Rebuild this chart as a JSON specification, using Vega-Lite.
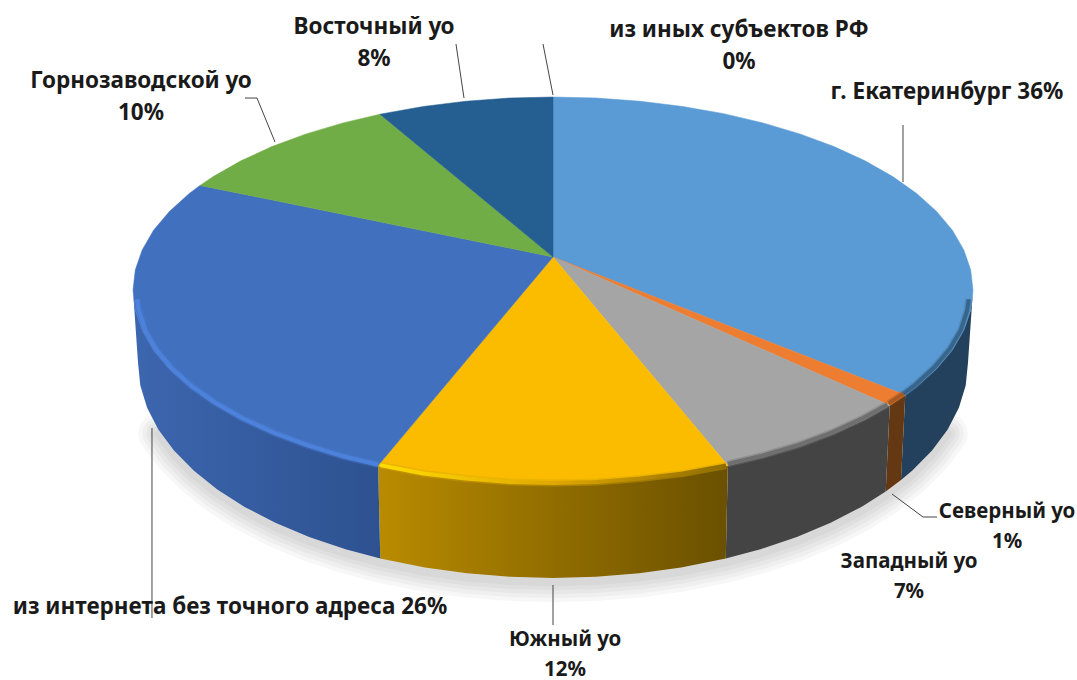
{"$schema":"https://vega.github.io/schema/vega-lite/v6.json","width":1077,"height":680,"padding":0,"autosize":"none","background":"white","config":{"view":{"stroke":null}},
"projection":{"type":"identity","scale":4.2,"translate":[553,290]},
"resolve":{"scale":{"color":"independent","stroke":"independent"}},
"datasets":{"shapes":[
{"type":"Feature","properties":{"part":"shadow","name":"shadow"},"geometry":{"type":"LineString","coordinates":[[93.97,34.2],[90.25,39.2],[85.56,43.98],[79.22,48.98],[73.42,52.64],[66.11,56.43],[58.07,59.8],[49.4,62.72],[41.13,64.93],[30.53,67.08],[20.54,68.46],[10.32,69.3],[0,69.58],[-10.32,69.3],[-20.54,68.46],[-30.53,67.08],[-41.13,64.93],[-49.4,62.72],[-58.07,59.8],[-66.11,56.43],[-73.42,52.64],[-79.93,48.48],[-85.56,43.98],[-90.25,39.2],[-93.97,34.2]]}},
{"type":"Feature","properties":{"part":"wall","name":"г. Екатеринбург"},"geometry":{"type":"Polygon","coordinates":[[[100,0],[99.45,4.8],[97.81,9.55],[95.11,14.2],[91.35,18.69],[86.6,22.98],[83.87,25.02],[82.86,45.26],[85.56,42.98],[90.25,38.2],[93.97,33.2],[96.64,28.02],[98.26,22.73],[98.8,17.38],[100,0]]]}},
{"type":"Feature","properties":{"part":"wall","name":"Северный уо"},"geometry":{"type":"Polygon","coordinates":[[[83.87,25.02],[80.18,27.46],[79.22,47.98],[82.86,45.26],[83.87,25.02]]]}},
{"type":"Feature","properties":{"part":"wall","name":"Западный уо"},"geometry":{"type":"Polygon","coordinates":[[[80.18,27.46],[74.31,30.75],[66.91,34.15],[58.78,37.17],[50,39.79],[41.63,41.78],[41.13,63.93],[49.4,61.72],[58.07,58.8],[66.11,55.43],[73.42,51.64],[79.22,47.98],[80.18,27.46]]]}},
{"type":"Feature","properties":{"part":"wallYellow","name":"Южный уо"},"geometry":{"type":"Polygon","coordinates":[[[41.63,41.78],[30.9,43.7],[20.79,44.94],[10.45,45.7],[0,45.95],[-10.45,45.7],[-20.79,44.94],[-30.9,43.7],[-41.63,41.78],[-41.13,63.93],[-30.53,66.08],[-20.54,67.46],[-10.32,68.3],[0,68.58],[10.32,68.3],[20.54,67.46],[30.53,66.08],[41.13,63.93],[41.63,41.78]]]}},
{"type":"Feature","properties":{"part":"wallBlue","name":"из интернета без точного адреса"},"geometry":{"type":"Polygon","coordinates":[[[-41.63,41.78],[-50,39.79],[-58.78,37.17],[-66.91,34.15],[-74.31,30.75],[-80.9,27.01],[-86.6,22.98],[-91.35,18.69],[-95.11,14.2],[-97.81,9.55],[-99.45,4.8],[-100,0],[-98.8,17.38],[-98.26,22.73],[-96.64,28.02],[-93.97,33.2],[-90.25,38.2],[-85.56,42.98],[-79.93,47.48],[-73.42,51.64],[-66.11,55.43],[-58.07,58.8],[-49.4,61.72],[-41.13,63.93],[-41.63,41.78]]]}},
{"type":"Feature","properties":{"part":"top","name":"г. Екатеринбург"},"geometry":{"type":"Polygon","coordinates":[[[0,-7.86],[0,-45.95],[10.45,-45.7],[20.79,-44.94],[30.9,-43.7],[40.67,-41.98],[50,-39.79],[58.78,-37.17],[66.91,-34.15],[74.31,-30.75],[80.9,-27.01],[86.6,-22.98],[91.35,-18.69],[95.11,-14.2],[97.81,-9.55],[99.45,-4.8],[100,0],[99.45,4.8],[97.81,9.55],[95.11,14.2],[91.35,18.69],[86.6,22.98],[83.87,25.02],[0,-7.86]]]}},
{"type":"Feature","properties":{"part":"top","name":"Северный уо"},"geometry":{"type":"Polygon","coordinates":[[[0,-7.86],[83.87,25.02],[80.18,27.46],[0,-7.86]]]}},
{"type":"Feature","properties":{"part":"top","name":"Западный уо"},"geometry":{"type":"Polygon","coordinates":[[[0,-7.86],[80.18,27.46],[74.31,30.75],[66.91,34.15],[58.78,37.17],[50,39.79],[41.63,41.78],[0,-7.86]]]}},
{"type":"Feature","properties":{"part":"top","name":"Южный уо"},"geometry":{"type":"Polygon","coordinates":[[[0,-7.86],[41.63,41.78],[30.9,43.7],[20.79,44.94],[10.45,45.7],[0,45.95],[-10.45,45.7],[-20.79,44.94],[-30.9,43.7],[-41.63,41.78],[0,-7.86]]]}},
{"type":"Feature","properties":{"part":"top","name":"из интернета без точного адреса"},"geometry":{"type":"Polygon","coordinates":[[[0,-7.86],[-41.63,41.78],[-50,39.79],[-58.78,37.17],[-66.91,34.15],[-74.31,30.75],[-80.9,27.01],[-86.6,22.98],[-91.35,18.69],[-95.11,14.2],[-97.81,9.55],[-99.45,4.8],[-100,0],[-99.45,-4.8],[-97.81,-9.55],[-95.11,-14.2],[-91.35,-18.69],[-86.6,-22.98],[-84.05,-24.9],[0,-7.86]]]}},
{"type":"Feature","properties":{"part":"top","name":"Горнозаводской уо"},"geometry":{"type":"Polygon","coordinates":[[[0,-7.86],[-84.05,-24.9],[-80.9,-27.01],[-74.31,-30.75],[-66.91,-34.15],[-58.78,-37.17],[-50,-39.79],[-41.2,-41.86],[0,-7.86]]]}},
{"type":"Feature","properties":{"part":"top","name":"Восточный уо"},"geometry":{"type":"Polygon","coordinates":[[[0,-7.86],[-41.2,-41.86],[-30.9,-43.7],[-20.79,-44.94],[-10.45,-45.7],[0,-45.95],[0,-7.86]]]}},
{"type":"Feature","properties":{"part":"rimBlue2","name":"из интернета без точного адреса"},"geometry":{"type":"LineString","coordinates":[[-41.63,41.6],[-50,39.6],[-58.4,37.0],[-66.4,34.0],[-73.8,30.6],[-80.3,26.9],[-86.0,22.9],[-90.7,18.7],[-94.4,14.3],[-97.0,9.8],[-98.7,4.6],[-99.0,2.2]]}},
{"type":"Feature","properties":{"part":"rimYellow","name":"Южный уо"},"geometry":{"type":"LineString","coordinates":[[-41.2,41.7],[-30.9,43.7],[-20.79,44.9],[-10.45,45.7],[0,45.95],[10.45,45.7],[20.79,44.9],[30.9,43.7],[41.2,41.8]]}},
{"type":"Feature","properties":{"part":"rimGray","name":"Западный уо"},"geometry":{"type":"LineString","coordinates":[[41.63,41.4],[50,39.4],[58.5,36.9],[66.5,33.9],[73.8,30.5],[79.6,27.3]]}},
{"type":"Feature","properties":{"part":"rimBlue1","name":"г. Екатеринбург"},"geometry":{"type":"LineString","coordinates":[[83.4,24.7],[86.1,22.7],[90.8,18.4],[94.5,14.0],[97.1,9.5],[98.6,4.9],[99.0,2.2]]}},
{"type":"Feature","properties":{"part":"rimOrange","name":"Северный уо"},"geometry":{"type":"LineString","coordinates":[[79.9,27.0],[83.4,24.7]]}},
{"type":"Feature","properties":{"part":"leader","name":"Восточный уо"},"geometry":{"type":"LineString","coordinates":[[-23.1,-58.57],[-21.19,-45.71]]}},
{"type":"Feature","properties":{"part":"leader","name":"из иных субъектов РФ"},"geometry":{"type":"LineString","coordinates":[[-2.38,-58.57],[0,-46.43]]}},
{"type":"Feature","properties":{"part":"leader","name":"Горнозаводской уо"},"geometry":{"type":"LineString","coordinates":[[-73.33,-45.71],[-70.48,-45.71],[-66.19,-35.24]]}},
{"type":"Feature","properties":{"part":"leader","name":"г. Екатеринбург"},"geometry":{"type":"LineString","coordinates":[[83.33,-39.29],[83.33,-25.71]]}},
{"type":"Feature","properties":{"part":"leader","name":"Северный уо"},"geometry":{"type":"LineString","coordinates":[[80.71,48.57],[88.1,54.05],[91.43,54.05]]}},
{"type":"Feature","properties":{"part":"leader","name":"Южный уо"},"geometry":{"type":"LineString","coordinates":[[0,70.24],[0,79.76]]}},
{"type":"Feature","properties":{"part":"leader","name":"из интернета без точного адреса"},"geometry":{"type":"LineString","coordinates":[[-95.48,32.86],[-95.48,78.1]]}}
],
"labels":[
{"label":"из иных субъектов РФ\n0%","group":"large","lon":44.29,"lat":-61.9},
{"label":"г. Екатеринбург 36%","group":"large","lon":93.8,"lat":-47.14},
{"label":"Горнозаводской уо\n10%","group":"large","lon":-98.1,"lat":-49.76},
{"label":"Восточный уо\n8%","group":"large","lon":-42.6,"lat":-62.62},
{"label":"из интернета без точного адреса  26%","group":"large","lon":-76.9,"lat":75.48},
{"label":"Северный уо\n1%","group":"small","lon":108.1,"lat":52.86},
{"label":"Западный уо\n7%","group":"small","lon":84.76,"lat":64.76},
{"label":"Южный уо\n12%","group":"small","lon":2.86,"lat":83.3}
]},
"data":{"name":"shapes"},
"layer":[
{"transform":[{"filter":"datum.properties.part=='shadow'"}],"mark":{"type":"geoshape","filled":false,"stroke":"#000000","strokeOpacity":0.03,"strokeWidth":40,"strokeCap":"round"}},
{"transform":[{"filter":"datum.properties.part=='shadow'"}],"mark":{"type":"geoshape","filled":false,"stroke":"#000000","strokeOpacity":0.03,"strokeWidth":32,"strokeCap":"round"}},
{"transform":[{"filter":"datum.properties.part=='shadow'"}],"mark":{"type":"geoshape","filled":false,"stroke":"#000000","strokeOpacity":0.03,"strokeWidth":24,"strokeCap":"round"}},
{"transform":[{"filter":"datum.properties.part=='shadow'"}],"mark":{"type":"geoshape","filled":false,"stroke":"#000000","strokeOpacity":0.03,"strokeWidth":16,"strokeCap":"round"}},
{"transform":[{"filter":"datum.properties.part=='shadow'"}],"mark":{"type":"geoshape","filled":false,"stroke":"#000000","strokeOpacity":0.03,"strokeWidth":8,"strokeCap":"round"}},
{"transform":[{"filter":"datum.properties.part=='wall'"}],"mark":{"type":"geoshape"},"encoding":{"color":{"field":"properties.name","type":"nominal","legend":null,"scale":{"domain":["г. Екатеринбург","Северный уо","Западный уо"],"range":["#23415c","#633812","#444444"]}}}},
{"transform":[{"filter":"datum.properties.part=='wallYellow'"}],"mark":{"type":"geoshape","fill":{"gradient":"linear","x1":0,"y1":0,"x2":1,"y2":0,"stops":[{"offset":0,"color":"#b98b00"},{"offset":1,"color":"#6a5000"}]}}},
{"transform":[{"filter":"datum.properties.part=='wallBlue'"}],"mark":{"type":"geoshape","fill":{"gradient":"linear","x1":0,"y1":0,"x2":1,"y2":0,"stops":[{"offset":0,"color":"#3c66af"},{"offset":1,"color":"#2e5290"}]}}},
{"transform":[{"filter":"datum.properties.part=='top'"}],"mark":{"type":"geoshape","strokeWidth":0.5},"encoding":{"color":{"field":"properties.name","type":"nominal","legend":null,"scale":{"domain":["г. Екатеринбург","Северный уо","Западный уо","Южный уо","из интернета без точного адреса","Горнозаводской уо","Восточный уо"],"range":["#5b9bd5","#ed7d31","#a5a5a5","#fbbc00","#4170bf","#70ad47","#255e91"]}},"stroke":{"field":"properties.name","type":"nominal","legend":null,"scale":{"domain":["г. Екатеринбург","Северный уо","Западный уо","Южный уо","из интернета без точного адреса","Горнозаводской уо","Восточный уо"],"range":["#5b9bd5","#ed7d31","#a5a5a5","#fbbc00","#4170bf","#70ad47","#255e91"]}}}},
{"transform":[{"filter":"indexof(datum.properties.part,'rim')==0"}],"mark":{"type":"geoshape","filled":false,"strokeWidth":7,"strokeOpacity":0.4},"encoding":{"stroke":{"field":"properties.name","type":"nominal","legend":null,"scale":{"domain":["г. Екатеринбург","Северный уо","Западный уо","Южный уо","из интернета без точного адреса"],"range":["#3f7199","#a85a22","#737373","#d8a400","#4a7cd2"]}}}},
{"transform":[{"filter":"datum.properties.part=='rimBlue2'"}],"mark":{"type":"geoshape","filled":false,"stroke":"#4d82dc","strokeWidth":4}},
{"transform":[{"filter":"datum.properties.part=='rimYellow'"}],"mark":{"type":"geoshape","filled":false,"strokeWidth":4,"stroke":{"gradient":"linear","x1":0,"y1":0,"x2":1,"y2":0,"stops":[{"offset":0,"color":"#ffdc00"},{"offset":0.5,"color":"#e0a800"},{"offset":1,"color":"#8f6c00"}]}}},
{"transform":[{"filter":"datum.properties.part=='rimGray'"}],"mark":{"type":"geoshape","filled":false,"stroke":"#6f6f6f","strokeWidth":4}},
{"transform":[{"filter":"datum.properties.part=='rimBlue1'"}],"mark":{"type":"geoshape","filled":false,"stroke":"#37658c","strokeWidth":4}},
{"transform":[{"filter":"datum.properties.part=='rimOrange'"}],"mark":{"type":"geoshape","filled":false,"stroke":"#a85a22","strokeWidth":4}},
{"transform":[{"filter":"datum.properties.part=='leader'"}],"mark":{"type":"geoshape","filled":false,"stroke":"#444444","strokeWidth":1}},
{"data":{"name":"labels"},"transform":[{"filter":"datum.group=='large'"}],"mark":{"type":"text","font":"Noto Sans","fontWeight":"bold","fontSize":22.5,"lineBreak":"\n","lineHeight":32,"align":"center","baseline":"middle","color":"#1a1a1a"},"encoding":{"longitude":{"field":"lon","type":"quantitative"},"latitude":{"field":"lat","type":"quantitative"},"text":{"field":"label"}}},
{"data":{"name":"labels"},"transform":[{"filter":"datum.group=='small'"}],"mark":{"type":"text","font":"Noto Sans","fontWeight":"bold","fontSize":20.5,"lineBreak":"\n","lineHeight":30,"align":"center","baseline":"middle","color":"#1a1a1a"},"encoding":{"longitude":{"field":"lon","type":"quantitative"},"latitude":{"field":"lat","type":"quantitative"},"text":{"field":"label"}}}
]}
